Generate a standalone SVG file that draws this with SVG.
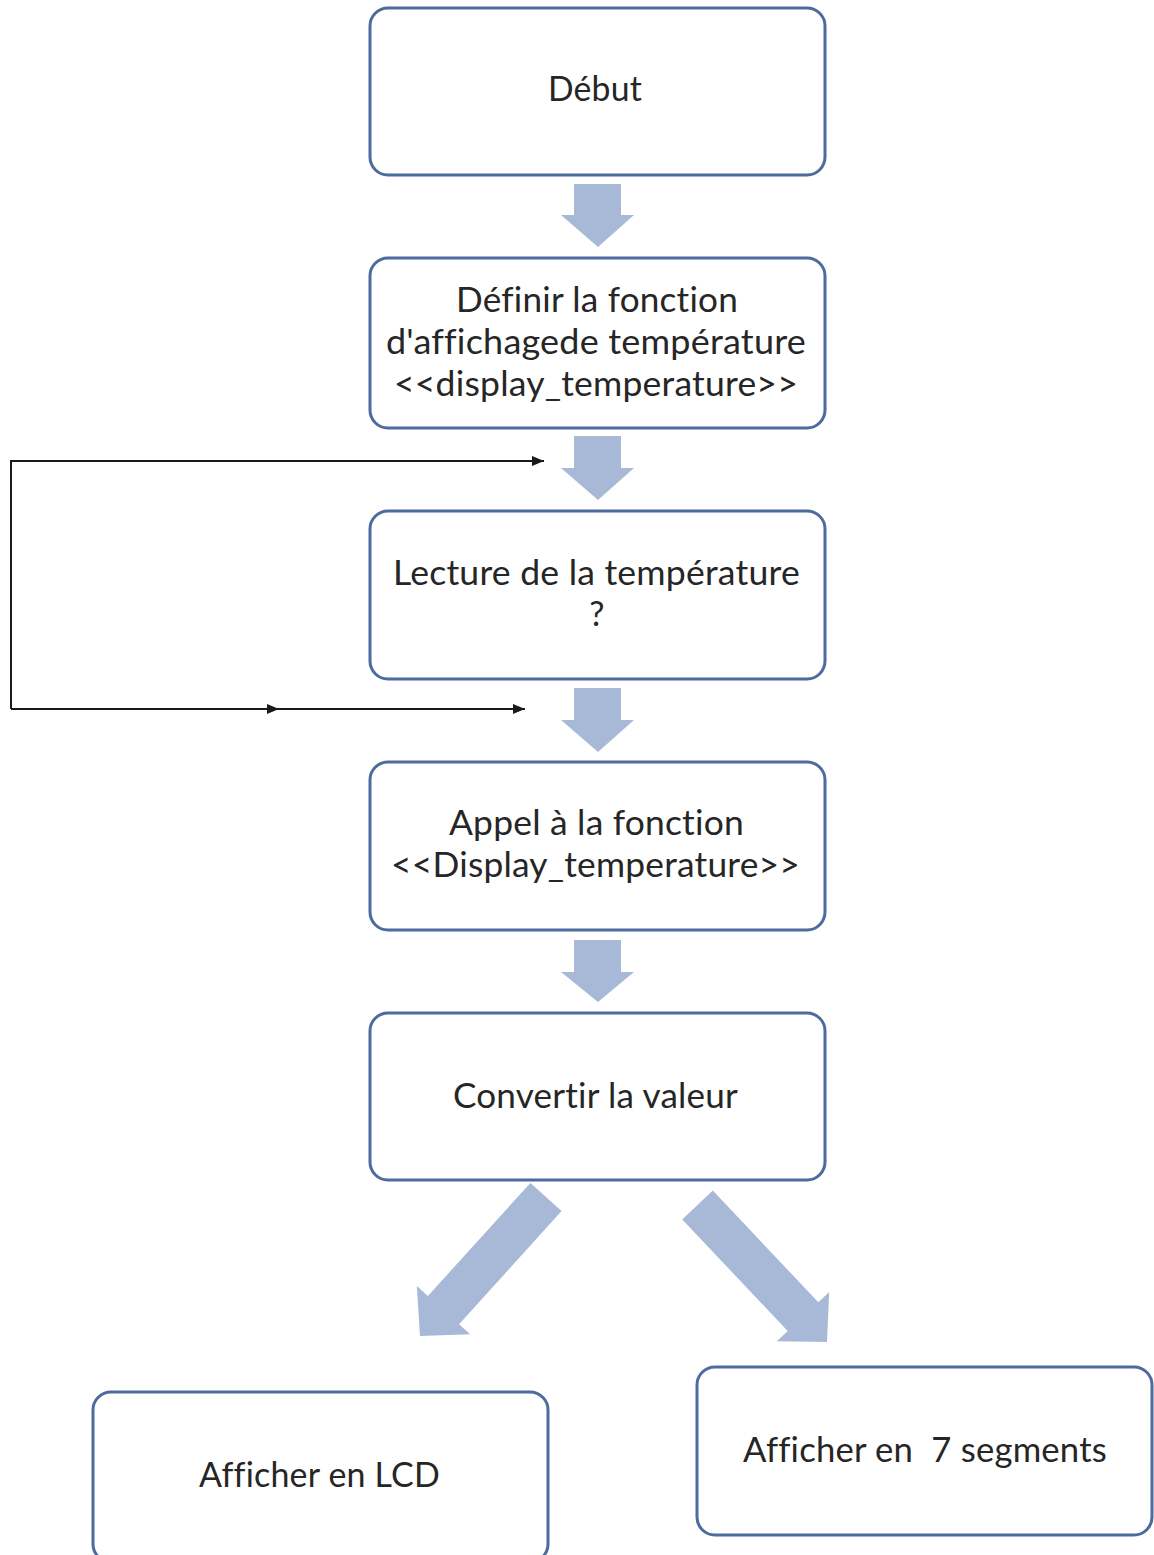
<svg xmlns="http://www.w3.org/2000/svg" width="1154" height="1555" viewBox="0 0 1154 1555">
  <defs>
    <style>
      .box { fill: #ffffff; stroke: #4d6b9d; stroke-width: 3; }
      .lbl { font-family: Lato, "Open Sans", "Liberation Sans", sans-serif; font-size: 34px; fill: #262626; text-anchor: middle; font-variant-ligatures: none; font-feature-settings: "liga" 0, "clig" 0; letter-spacing: 0.2px; }
      .blk { fill: #a8b9d8; stroke: none; }
      .ln { fill: none; stroke: #1a1a1a; stroke-width: 2; }
    </style>
    <marker id="ah" viewBox="0 0 12 10" refX="12" refY="5" markerWidth="12" markerHeight="10" markerUnits="userSpaceOnUse" orient="auto">
      <path d="M0,0 L12,5 L0,10 Z" fill="#1a1a1a"/>
    </marker>
  </defs>
  <rect width="1154" height="1555" fill="#ffffff"/>

  <g id="connectors">
    <polygon class="blk" points="574,184 621,184 621,215 634,215 598,247 561,215 574,215"/>
    <polygon class="blk" points="574,436 621,436 621,468 634,468 598,500 561,468 574,468"/>
    <polygon class="blk" points="574,688 621,688 621,720 634,720 598,752 561,720 574,720"/>
    <polygon class="blk" points="574,940 621,940 621,972 634,972 598,1002 561,972 574,972"/>
    <polygon class="blk" points="530.4,1182.9 561.6,1211.1 459.1,1324.2 470.2,1334.3 420,1336 416.8,1285.9 427.9,1296"/>
    <polygon class="blk" points="682.2,1219.4 712.8,1190.6 818.3,1302.2 829.2,1291.9 827,1342 776.8,1341.3 787.7,1331"/>
    <path class="ln" d="M11,709 L11,461 L544,461" marker-end="url(#ah)"/>
    <path class="ln" d="M11,709 L279,709" marker-end="url(#ah)"/>
    <path class="ln" d="M270,709 L525,709" marker-end="url(#ah)"/>
  </g>

  <g id="debut">
    <rect class="box" x="370" y="8" width="455" height="167" rx="18"/>
    <text class="lbl" x="595" y="101" textLength="94" lengthAdjust="spacingAndGlyphs">Début</text>
  </g>

  <g id="definir">
    <rect class="box" x="370" y="258" width="455" height="170" rx="18"/>
    <text class="lbl" x="597" y="312" textLength="282" lengthAdjust="spacingAndGlyphs">Définir la fonction</text>
    <text class="lbl" x="596" y="354" textLength="420" lengthAdjust="spacingAndGlyphs">d'affichagede température</text>
    <text class="lbl" x="596" y="396" textLength="404" lengthAdjust="spacingAndGlyphs">&lt;&lt;display_temperature&gt;&gt;</text>
  </g>

  <g id="lecture">
    <rect class="box" x="370" y="511" width="455" height="168" rx="18"/>
    <text class="lbl" x="596.5" y="585" textLength="407" lengthAdjust="spacingAndGlyphs">Lecture de la température</text>
    <text class="lbl" x="597" y="626">?</text>
  </g>

  <g id="appel">
    <rect class="box" x="370" y="762" width="455" height="168" rx="18"/>
    <text class="lbl" x="596.5" y="835" textLength="295" lengthAdjust="spacingAndGlyphs">Appel à la fonction</text>
    <text class="lbl" x="595.5" y="877" textLength="409" lengthAdjust="spacingAndGlyphs">&lt;&lt;Display_temperature&gt;&gt;</text>
  </g>

  <g id="convertir">
    <rect class="box" x="370" y="1013" width="455" height="167" rx="18"/>
    <text class="lbl" x="595.5" y="1108" textLength="285" lengthAdjust="spacingAndGlyphs">Convertir la valeur</text>
  </g>

  <g id="lcd">
    <rect class="box" x="93" y="1392" width="455" height="170" rx="18"/>
    <text class="lbl" x="319.5" y="1487" textLength="241" lengthAdjust="spacingAndGlyphs">Afficher en LCD</text>
  </g>

  <g id="segments">
    <rect class="box" x="697" y="1367" width="455" height="168" rx="18"/>
    <text class="lbl" x="925" y="1462" textLength="364" lengthAdjust="spacingAndGlyphs" style="white-space:pre">Afficher en  7 segments</text>
  </g>
</svg>
